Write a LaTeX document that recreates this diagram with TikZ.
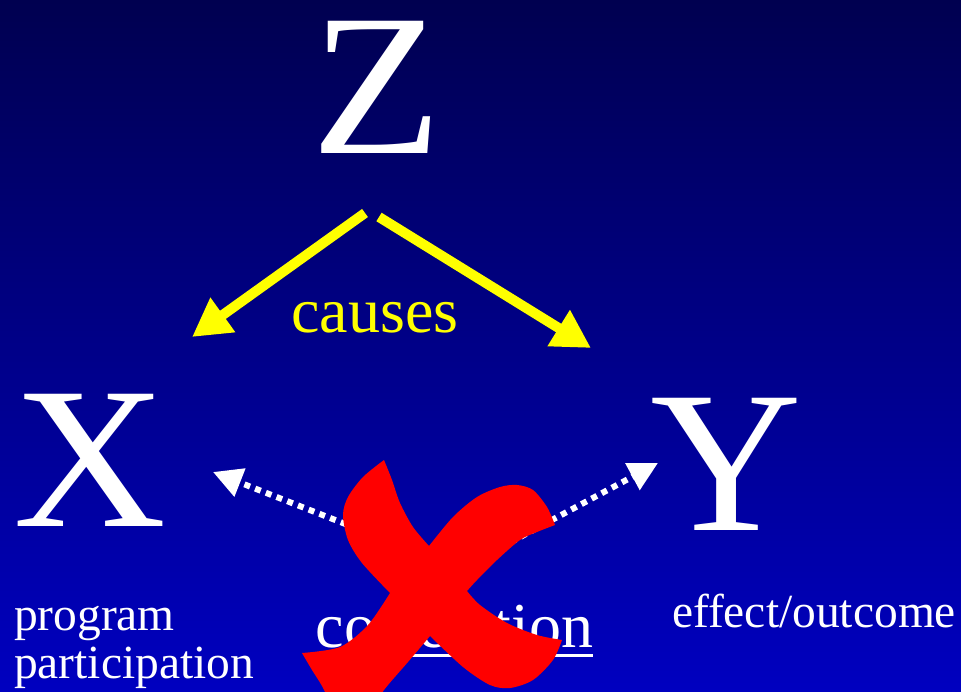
\documentclass[tikz,border=0pt]{standalone}
\usepackage{fontspec}
\setmainfont{Liberation Serif}
\usetikzlibrary{arrows.meta}
\definecolor{bgtop}{RGB}{0,0,80}
\definecolor{bgbot}{RGB}{0,0,192}
\definecolor{causeyellow}{RGB}{255,255,0}
\definecolor{crossred}{RGB}{255,0,0}
\tikzset{
  bigletter/.style={text=white, inner sep=0pt, outer sep=0pt, anchor=base, text height=134pt, text depth=0pt, font=\fontsize{202}{202}\selectfont},
  labeltext/.style={text=white, inner sep=0pt, outer sep=0pt, anchor=base west, font=\fontsize{47.5}{47.5}\selectfont},
  midtext/.style={inner sep=0pt, outer sep=0pt, anchor=base, font=\fontsize{64}{64}\selectfont},
  causearrow/.style={draw=causeyellow, line width=10pt, -{Triangle[length=38pt,width=40pt]}},
  causeshadow/.style={draw=black, opacity=0.3, line width=10pt, -{Triangle[length=38pt,width=40pt]}},
  corrarrow/.style={draw=white, line width=6pt, dash pattern=on 6pt off 5.5pt, -{Triangle[length=29pt,width=29pt]}},
}
\begin{document}
\begin{tikzpicture}[x=1pt,y=-1pt]
\useasboundingbox (0,0) rectangle (961,692);
\clip (0,0) rectangle (961,692);
\shade[top color=bgtop, bottom color=bgbot] (0,0) rectangle (961,692);

% letters
\node[bigletter] (Z) at (377,154) {\scalebox{1.06}[1]{Z}};
\node[bigletter] (X) at (90,526) {\scalebox{1.05}[1]{X}};
\node[bigletter] (Y) at (726,530) {\scalebox{1.04}[1]{Y}};

% arrow end points
\coordinate (zL) at (365,213);
\coordinate (zR) at (379,217);
\coordinate (xT) at (192,337);
\coordinate (yT) at (591,348);

% yellow causal arrows with soft shadow
\begin{scope}[shift={(2,3)}]
  \draw[causeshadow] (zL) -- (xT);
  \draw[causeshadow] (zR) -- (yT);
\end{scope}
\draw[causearrow] (zL) -- (xT);
\draw[causearrow] (zR) -- (yT);

\node[midtext, text=causeyellow] (causes) at (375,333) {causes};

% labels
\node[labeltext] (prog) at (14,630) {program};
\node[labeltext] (part) at (14,678) {participation};
\node[labeltext] (eff) at (672,627) {effect/outcome};

% dotted correlation arrows
\coordinate (cL) at (432,558);
\coordinate (cR) at (470,564);
\coordinate (xC) at (213,472);
\coordinate (yC) at (658,463);
\draw[corrarrow] (cL) -- (xC);
\draw[corrarrow] (cR) -- (yC);

% correlation word, underlined
\node[midtext, text=white] (corr) at (454.5,647) {correlation};
\draw[white, line width=3pt] ([yshift=-8.5pt]corr.base west) -- ([yshift=-8.5pt]corr.base east);

% red cross
\fill[crossred]
  plot[smooth] coordinates {(384,460) (363,477) (348,497) (343,515) (348,540) (362,563) (390,593)}
  -- plot[smooth] coordinates {(390,593) (368,625) (340,647) (302,653)}
  -- plot[smooth] coordinates {(302,653) (312,670) (322,686) (334,710)}
  -- (372,710)
  -- plot[smooth] coordinates {(372,710) (384,690) (408,662) (430,636)}
  -- plot[smooth] coordinates {(430,636) (463,667) (490,685) (510,688) (533,680) (553,660) (562,640)}
  -- plot[smooth] coordinates {(562,640) (537,635) (507,623) (480,605) (467,591)}
  -- plot[smooth] coordinates {(467,591) (477,580) (497,560) (520,540) (537,532) (555,525)}
  -- plot[smooth] coordinates {(555,525) (547,507) (533,490) (517,485) (500,487) (477,497) (453,517) (429,546)}
  -- plot[smooth] coordinates {(429,546) (413,527) (400,503) (392,480) (384,460)}
  -- cycle;
\end{tikzpicture}
\end{document}
